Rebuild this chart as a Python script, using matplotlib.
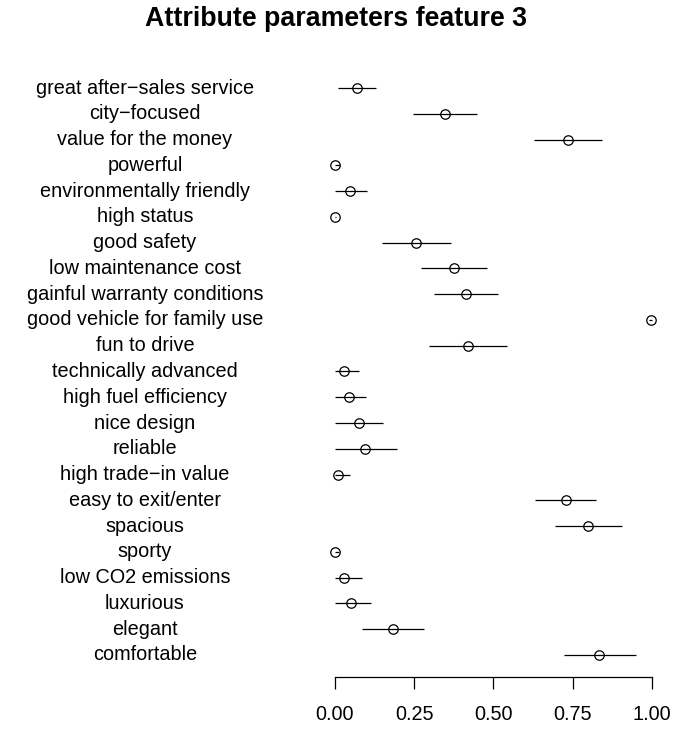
import matplotlib
matplotlib.use("Agg")
import matplotlib.pyplot as plt
import numpy as np
from matplotlib.transforms import blended_transform_factory

plt.rcParams['font.family'] = ['Liberation Sans', 'DejaVu Sans']

labels = ["great after\u2212sales service", "city\u2212focused", "value for the money", "powerful",
          "environmentally friendly", "high status", "good safety", "low maintenance cost",
          "gainful warranty conditions", "good vehicle for family use", "fun to drive",
          "technically advanced", "high fuel efficiency", "nice design", "reliable",
          "high trade\u2212in value", "easy to exit/enter", "spacious", "sporty",
          "low CO2 emissions", "luxurious", "elegant", "comfortable"]
estimate = [0.069, 0.347, 0.735, 0.0, 0.049, 0.0, 0.257, 0.375, 0.413, 0.997, 0.421,
            0.029, 0.044, 0.075, 0.094, 0.011, 0.728, 0.800, 0.0, 0.029, 0.050, 0.182, 0.835]
lower = [0.010, 0.245, 0.629, 0.0, 0.0, 0.0, 0.149, 0.271, 0.313, 0.990, 0.298,
         0.0, 0.0, 0.0, 0.0, 0.0, 0.632, 0.695, 0.0, 0.0, 0.0, 0.085, 0.723]
upper = [0.129, 0.449, 0.842, 0.015, 0.102, 0.003, 0.367, 0.479, 0.515, 1.0, 0.544,
         0.077, 0.098, 0.153, 0.196, 0.047, 0.825, 0.907, 0.012, 0.084, 0.113, 0.280, 0.949]
xticks = [0.0, 0.25, 0.5, 0.75, 1.0]
xticklabels = ["0.00", "0.25", "0.50", "0.75", "1.00"]
title = "Attribute parameters feature 3"

W, H = 673, 729
fig = plt.figure(figsize=(W / 100, H / 100), dpi=100)
left_px, right_px = 322.3, 664.4
top_px, bot_px = 66.0, 677.0
ax = fig.add_axes([left_px / W, 1 - bot_px / H, (right_px - left_px) / W, (bot_px - top_px) / H])

n = len(labels)
y = np.arange(n)[::-1]
ax.hlines(y, lower, upper, color='black', lw=0.9)
ax.plot(estimate, y, 'o', mfc='none', mec='black', ms=6.8, mew=0.9, ls='none')

ax.set_xlim(-0.04, 1.04)
ax.set_ylim(-0.854, n - 1 + 0.854)
for s in ['top', 'right', 'left']:
    ax.spines[s].set_visible(False)
ax.spines['bottom'].set_bounds(0, 1)
ax.spines['bottom'].set_linewidth(0.9)
ax.set_xticks(xticks)
ax.set_xticklabels(xticklabels, fontsize=14.3)
ax.tick_params(axis='x', length=8.5, width=0.9, pad=12)
ax.set_yticks([])

# category labels centered at x ~ 145 px
tr = blended_transform_factory(fig.transFigure, ax.transData)
for lab, yy in zip(labels, y):
    ax.text(145 / W, yy, lab, transform=tr, ha='center', va='center', fontsize=14.3)

fig.text(336 / W, 1 - 26 / H, title, ha='center', va='baseline', fontsize=19.3, fontweight='bold')

fig.savefig("out.png", dpi=100)
